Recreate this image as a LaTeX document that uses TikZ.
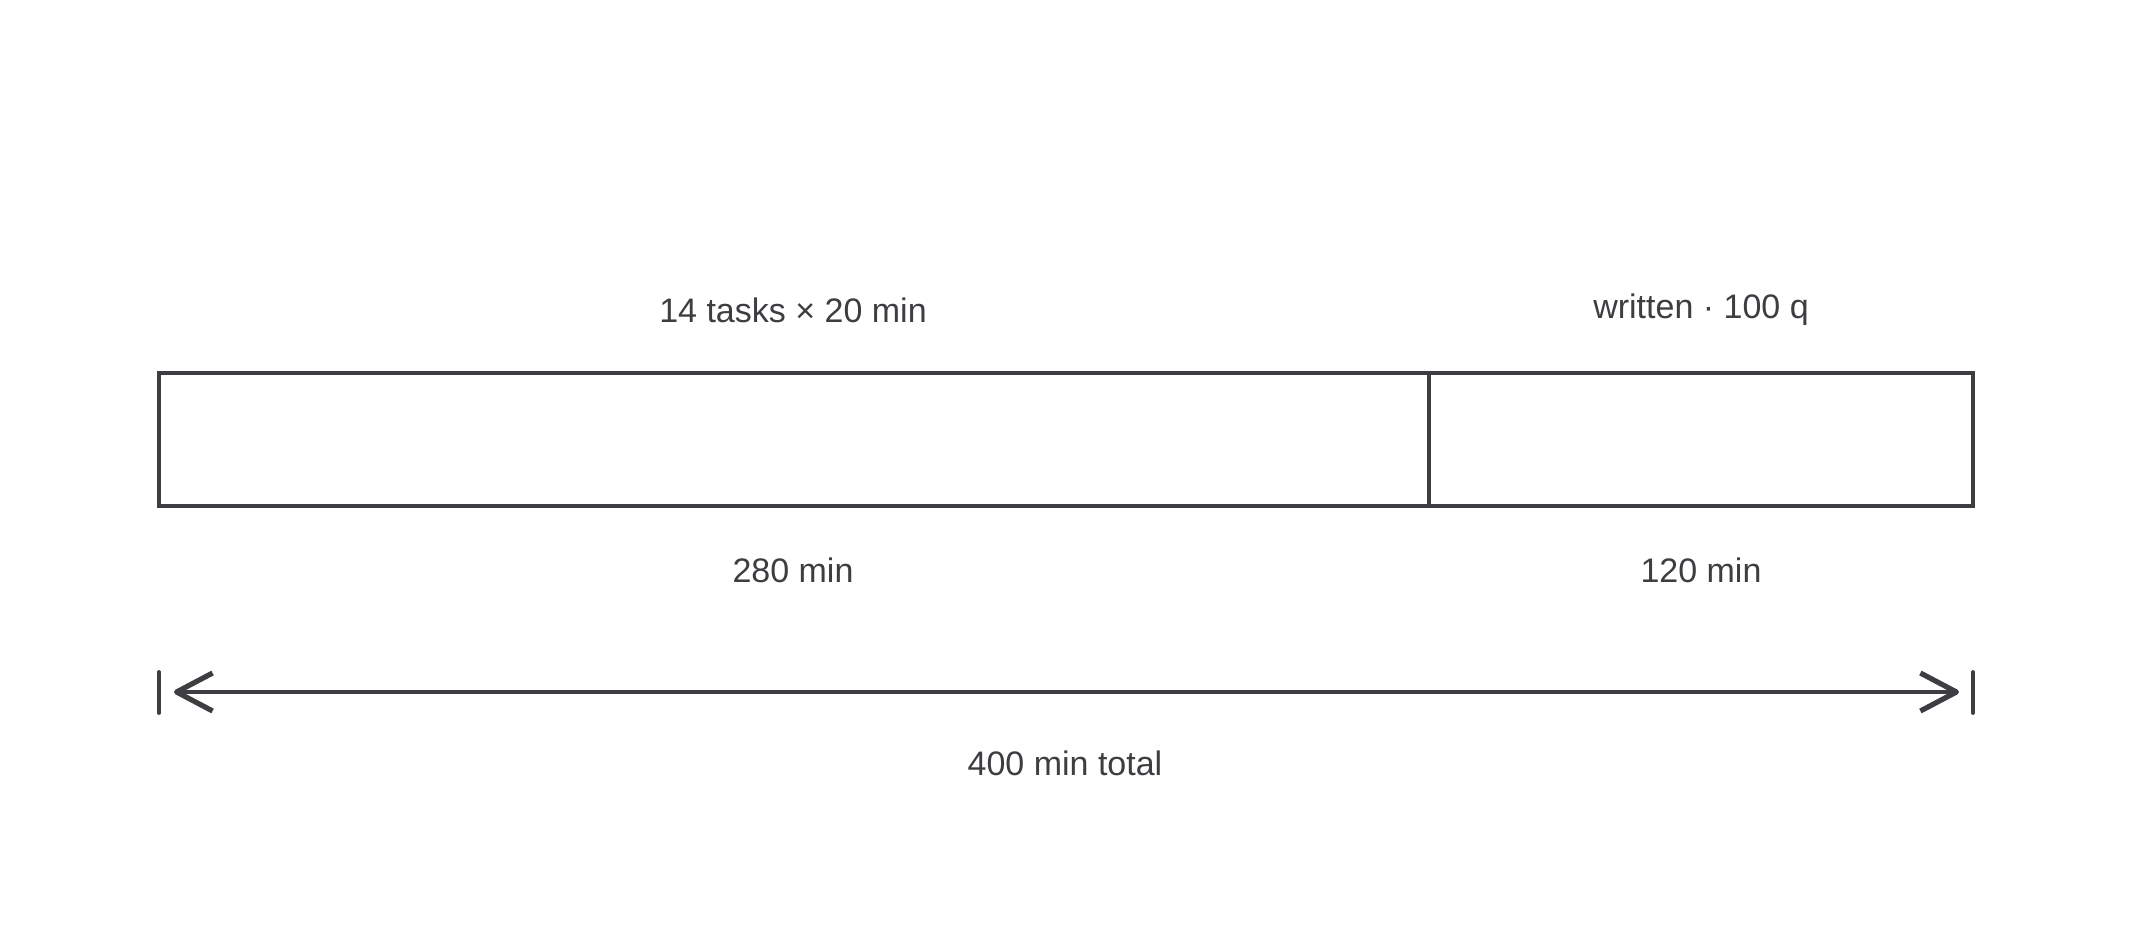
\documentclass[tikz,border=0pt]{standalone}
\usepackage{fontspec}
\setmainfont{Liberation Sans}
\usetikzlibrary{arrows.meta}
\definecolor{ink}{RGB}{62,62,66}

\begin{document}
\begin{tikzpicture}[x=0.5pt,y=-0.5pt]
\useasboundingbox[fill=white] (0,0) rectangle (2133,933);
\begin{scope}[every node/.style={draw=ink,line width=1.75pt,inner sep=0pt,outer sep=0pt,anchor=north west,minimum height=66.5pt}]
	\node[minimum width=635pt] (tasks) at (159,373) {};
	\node[minimum width=272pt] (written) at (1429,373) {};
\end{scope}
\begin{scope}[every node/.style={text=ink,font=\fontsize{17}{20}\selectfont}]
	\node (ltasks) at (793,310) {14 tasks × 20 min};
	\node (lwritten) at (1701,310) {written · 100 q};
	\node (mtasks) at (793,570) {280 min};
	\node (mwritten) at (1701,570) {120 min};
	\node (total) at (1065,763) {400 min total};
\end{scope}
\coordinate (ta) at (159,672);
\coordinate (tb) at (159,713);
\coordinate (tc) at (1973,672);
\coordinate (td) at (1973,713);
\coordinate (al) at (174,692);
\coordinate (ar) at (1959,692);
\begin{scope}[draw=ink,line width=1.9pt,line cap=round]
	\draw (ta) -- (tb);
	\draw (tc) -- (td);
	\draw[{Straight Barb[length=18pt,width=19pt,line width=0.7pt 1,line join=round]}-{Straight Barb[length=18pt,width=19pt,line width=0.7pt 1,line join=round]}] (al) -- (ar);
\end{scope}
\end{tikzpicture}
\end{document}
